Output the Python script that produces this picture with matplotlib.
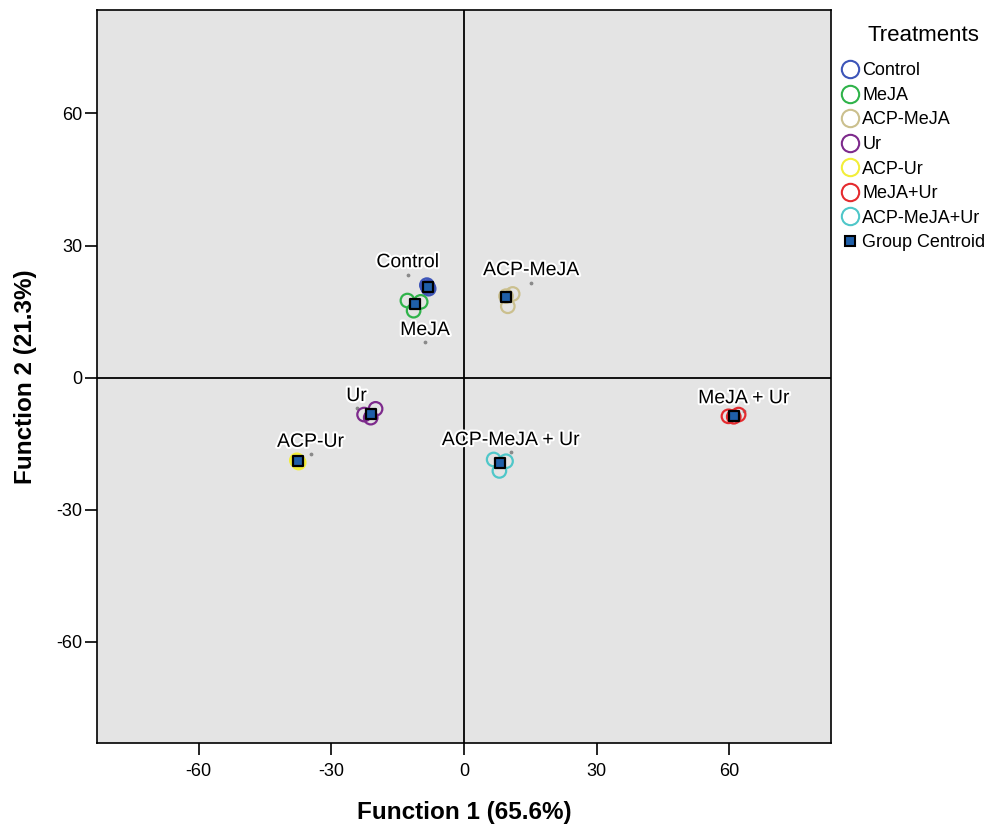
import matplotlib
matplotlib.use("Agg")
from matplotlib import pyplot as plt
from matplotlib.lines import Line2D
import matplotlib.patheffects as pe
import numpy as np

plt.rcParams["axes.unicode_minus"] = False
plt.rcParams["font.family"] = ["Liberation Sans", "DejaVu Sans"]

groups = ["Control", "MeJA", "ACP-MeJA", "Ur", "ACP-Ur", "MeJA+Ur", "ACP-MeJA+Ur"]
colors = ["#3d55b8", "#2fb34a", "#cbc08e", "#7d2a8c", "#f2ee3a", "#e52b2f", "#4fc7c9"]

# discriminant scores of the three replicates per group
f1_cases = [[-8.4, -8.0, -8.2], [-12.8, -9.8, -11.4], [11.0, 9.9, 9.5], [-20.0, -22.6, -21.1],
            [-37.8, -37.4, -37.6], [59.8, 62.1, 61.0], [6.7, 9.5, 8.0]]
f2_cases = [[21.0, 20.2, 20.6], [17.5, 17.2, 15.2], [19.0, 16.2, 18.5], [-7.1, -8.4, -9.1],
            [-18.8, -19.3, -19.0], [-8.8, -8.4, -8.9], [-18.6, -19.0, -21.2]]

# group centroids
f1_cent = [-8.2, -11.1, 9.5, -21.1, -37.6, 61.0, 8.2]
f2_cent = [20.6, 16.8, 18.4, -8.2, -19.0, -8.8, -19.3]

# centroid labels on the plot
lab_text = ["Control", "MeJA", "ACP-MeJA", "Ur", "ACP-Ur", "MeJA + Ur", "ACP-MeJA + Ur"]
lab_x = [-12.7, -8.8, 15.2, -24.3, -34.7, 63.3, 10.6]
lab_y = [26.1, 10.7, 24.3, -4.3, -14.7, -4.8, -14.3]

fig = plt.figure(figsize=(9.98, 8.26), dpi=100)
ax = fig.add_axes([0.0972, 0.1005, 0.7355, 0.8874])
ax.set_facecolor("#e4e4e4")

for i, g in enumerate(groups):
    ax.scatter(f1_cases[i], f2_cases[i], s=95, facecolors="none", edgecolors=colors[i],
               linewidths=1.6, zorder=3)
ax.scatter(f1_cent, f2_cent, marker="s", s=48, c="#1f5fa8", edgecolors="black",
           linewidths=1.6, zorder=4)

# tiny label anchors
ax.scatter(lab_x, np.array(lab_y) - 2.7, s=3, c="#8a8a8a", zorder=2)
for t, x, y in zip(lab_text, lab_x, lab_y):
    ax.text(x, y, t, ha="center", va="center", fontsize=14, zorder=5,
            path_effects=[pe.withStroke(linewidth=3, foreground="white")])

ax.axhline(0, color="black", lw=1.3, zorder=1)
ax.axvline(0, color="black", lw=1.3, zorder=1)

ax.set_xlim(-83, 83)
ax.set_ylim(-83, 83.5)
ax.set_xticks([-60, -30, 0, 30, 60])
ax.set_yticks([-60, -30, 0, 30, 60])
ax.tick_params(axis="x", labelsize=13, length=8.5, width=1.2, pad=6)
ax.tick_params(axis="y", labelsize=13, length=8.5, width=1.2, pad=2)
for s in ax.spines.values():
    s.set_linewidth(1.2)

ax.set_xlabel("Function 1 (65.6%)", fontsize=17.5, fontweight="bold", labelpad=15)
ax.set_ylabel("Function 2 (21.3%)", fontsize=17.5, fontweight="bold", labelpad=14)

handles = [Line2D([], [], ls="none", marker="o", ms=12.5, mfc="none", mec=c, mew=1.5)
           for c in colors]
handles.append(Line2D([], [], ls="none", marker="s", ms=6.5, mfc="#1f5fa8", mec="black", mew=1.5))
leg = fig.legend(handles, groups + ["Group Centroid"], loc="upper left",
                 bbox_to_anchor=(0.836, 0.968), frameon=False, title="Treatments",
                 fontsize=13, title_fontsize=16, handlelength=0.9, handletextpad=0.25,
                 labelspacing=0.42, borderaxespad=0)
leg.get_title().set_position((10, 9))

fig.savefig("out.png", dpi=100)
